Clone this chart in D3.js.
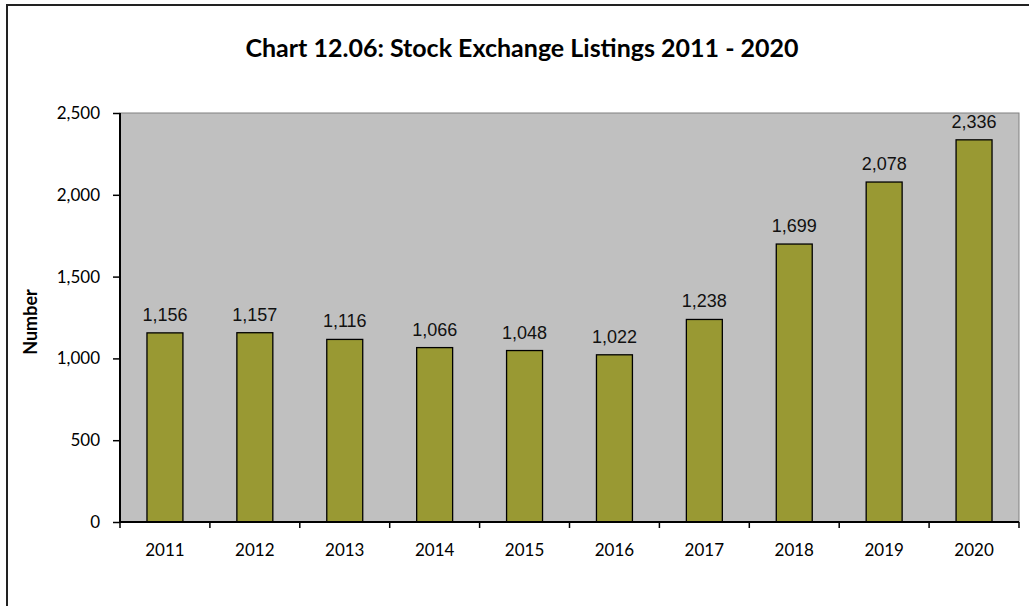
<!DOCTYPE html>
<html>
<head>
<meta charset="utf-8">
<script src="https://cdn.jsdelivr.net/npm/d3@7"></script>
<style>
  body { margin: 0; background: #fff; }
</style>
</head>
<body>
<div id="chart"></div>
<script>
// Chart data
const years = ["2011", "2012", "2013", "2014", "2015", "2016", "2017", "2018", "2019", "2020"];
const listings = [1156, 1157, 1116, 1066, 1048, 1022, 1238, 1699, 2078, 2336];
const yTicks = [0, 500, 1000, 1500, 2000, 2500];

function drawBarChart() {
  const W = 1029, H = 606;
  const margin = { top: 113, right: 10, bottom: 84, left: 120 };
  const width = 1019 - margin.left;
  const height = 522 - margin.top;

  const root = d3.select("#chart")
      .append("svg")
      .attr("width", W)
      .attr("height", H);

  // outer frame (only top and left edges show in the picture)
  root.append("rect")
      .attr("x", 7).attr("y", 5)
      .attr("width", W + 20).attr("height", H + 20)
      .attr("fill", "none")
      .attr("stroke", "#222")
      .attr("stroke-width", 2);

  root.append("text")
      .attr("x", 522)
      .attr("y", 57)
      .attr("text-anchor", "middle")
      .style("font-family", "Lato, 'Open Sans', sans-serif")
      .style("font-weight", "bold")
      .style("font-size", "25px")
      .text("Chart 12.06: Stock Exchange Listings 2011 - 2020");

  const svg = root.append("g")
      .attr("transform", `translate(${margin.left},${margin.top})`);

  const x = d3.scaleBand()
      .domain(years)
      .range([0, width])
      .paddingInner(0)
      .paddingOuter(0);

  const y = d3.scaleLinear()
      .domain([0, 2500])
      .range([height, 0]);

  // plot background
  svg.append("rect")
      .attr("width", width)
      .attr("height", height)
      .attr("fill", "#c0c0c0")
      .attr("stroke", "#808080")
      .attr("stroke-width", 1);

  const barW = x.bandwidth() * 0.4;

  svg.selectAll("rect.bar")
      .data(years)
      .enter()
      .append("rect")
      .attr("class", "bar")
      .attr("x", (d, i) => x(d) + (x.bandwidth() - barW) / 2)
      .attr("y", (d, i) => y(listings[i]))
      .attr("width", barW)
      .attr("height", (d, i) => height - y(listings[i]))
      .attr("fill", "#999933")
      .attr("stroke", "#000")
      .attr("stroke-width", 1.3);

  // value labels
  svg.selectAll("text.val")
      .data(years)
      .enter()
      .append("text")
      .attr("class", "val")
      .attr("x", d => x(d) + x.bandwidth() / 2)
      .attr("y", (d, i) => y(listings[i]) - 12)
      .attr("text-anchor", "middle")
      .style("font-family", "'Liberation Sans', Arial, sans-serif")
      .style("font-size", "18px")
      .attr("fill", "#111")
      .text((d, i) => d3.format(",")(listings[i]));

  // Y axis
  const yAxis = svg.append("g")
      .call(d3.axisLeft(y).tickValues(yTicks).tickFormat(d3.format(",")).tickSize(7).tickPadding(13));
  yAxis.select(".domain").attr("stroke", "#000").attr("stroke-width", 2).attr("d", `M0,0V${height}`);
  yAxis.selectAll(".tick line").attr("stroke", "#000").attr("stroke-width", 1.5);
  yAxis.selectAll(".tick text")
      .style("font-family", "Lato, 'Open Sans', sans-serif")
      .style("font-size", "17px")
      .attr("fill", "#000");

  // X axis with ticks at category boundaries
  const xAxis = svg.append("g")
      .attr("transform", `translate(0,${height})`);
  xAxis.append("line")
      .attr("x1", 0).attr("x2", width)
      .attr("stroke", "#000").attr("stroke-width", 2);
  xAxis.selectAll("line.tk")
      .data(years.concat(["end"]))
      .enter()
      .append("line")
      .attr("class", "tk")
      .attr("x1", (d, i) => i * x.step())
      .attr("x2", (d, i) => i * x.step())
      .attr("y1", 0).attr("y2", 6)
      .attr("stroke", "#000").attr("stroke-width", 1.5);
  xAxis.selectAll("text")
      .data(years)
      .enter()
      .append("text")
      .attr("x", d => x(d) + x.bandwidth() / 2)
      .attr("y", 34)
      .attr("text-anchor", "middle")
      .style("font-family", "Lato, 'Open Sans', sans-serif")
      .style("font-size", "17px")
      .text(d => d);

  // Y axis title
  root.append("text")
      .attr("transform", "translate(37,322) rotate(-90)")
      .attr("text-anchor", "middle")
      .style("font-family", "Lato, 'Open Sans', sans-serif")
      .style("font-weight", "bold")
      .style("font-size", "18px")
      .text("Number");
}

drawBarChart();
</script>
</body>
</html>
